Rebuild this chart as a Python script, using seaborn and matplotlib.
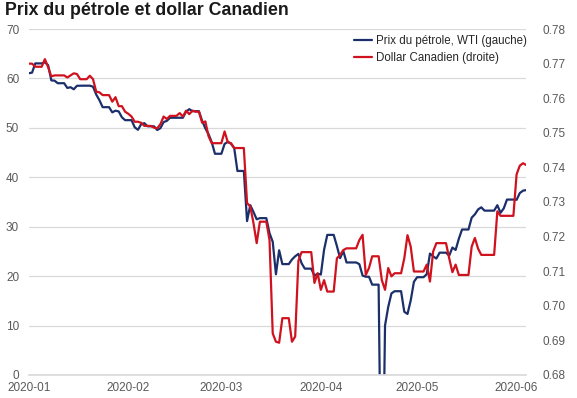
import pandas as pd
import matplotlib.pyplot as plt
import matplotlib.dates as mdates
import seaborn as sns

# WTI oil price, USD per barrel (daily, weekends carried over)
wti_jan = [61.06, 61.18, 63.05, 63.05, 63.05, 63.27, 62.70, 59.61, 59.56, 59.04,
           59.04, 59.04, 58.08, 58.23, 57.81, 58.52, 58.54, 58.54, 58.54, 58.54,
           58.34, 56.74, 55.59, 54.19, 54.19, 54.19, 53.14, 53.48, 53.33, 52.14, 51.56]
wti_feb = [51.56, 51.56, 50.11, 49.61, 50.75, 50.95, 50.32, 50.32, 50.32, 49.57,
           49.94, 51.17, 51.42, 52.05, 52.05, 52.05, 52.05, 52.05, 53.29, 53.78,
           53.38, 53.38, 53.38, 51.43, 49.90, 48.73, 47.09, 44.76, 44.76]
wti_mar = [44.76, 46.75, 47.18, 46.78, 45.90, 41.28, 41.28, 41.28, 31.13, 34.36,
           32.98, 31.50, 31.73, 31.73, 31.73, 28.70, 26.95, 20.37, 25.22, 22.43,
           22.43, 22.43, 23.36, 24.01, 24.49, 22.60, 21.51, 21.51, 21.51, 20.09, 20.48]
wti_apr = [20.31, 25.32, 28.34, 28.34, 28.34, 26.08, 23.63, 25.09, 22.76, 22.76,
           22.76, 22.76, 22.41, 20.11, 19.87, 19.87, 18.27, 18.27, 18.27, -37.63,
           10.01, 13.78, 16.50, 16.94, 16.94, 16.94, 12.78, 12.34, 15.06, 18.84]
wti_may = [19.78, 19.78, 19.78, 20.39, 24.56, 23.99, 23.55, 24.74, 24.74, 24.74,
           24.14, 25.78, 25.29, 27.56, 29.43, 29.43, 29.43, 31.82, 32.50, 33.49,
           33.92, 33.25, 33.25, 33.25, 33.25, 34.35, 32.81, 33.71, 35.49, 35.49, 35.49]
wti_jun = [35.44, 36.81, 37.29, 37.41]

# Canadian dollar, USD per CAD
cad_jan = [0.7700, 0.7700, 0.7691, 0.7691, 0.7691, 0.7713, 0.7690, 0.7663, 0.7666, 0.7666,
           0.7666, 0.7666, 0.7660, 0.7666, 0.7672, 0.7670, 0.7655, 0.7655, 0.7655, 0.7665,
           0.7655, 0.7619, 0.7617, 0.7609, 0.7609, 0.7609, 0.7590, 0.7603, 0.7577, 0.7577, 0.7561]
cad_feb = [0.7555, 0.7547, 0.7532, 0.7532, 0.7529, 0.7520, 0.7520, 0.7520, 0.7515, 0.7513,
           0.7525, 0.7547, 0.7540, 0.7549, 0.7549, 0.7549, 0.7557, 0.7547, 0.7564, 0.7554,
           0.7564, 0.7561, 0.7561, 0.7529, 0.7533, 0.7490, 0.7470, 0.7470, 0.7470]
cad_mar = [0.7470, 0.7504, 0.7473, 0.7470, 0.7456, 0.7456, 0.7456, 0.7456, 0.7297, 0.7287,
           0.7239, 0.7181, 0.7243, 0.7243, 0.7243, 0.7190, 0.6920, 0.6896, 0.6893, 0.6964,
           0.6964, 0.6964, 0.6896, 0.6911, 0.7130, 0.7155, 0.7155, 0.7155, 0.7155, 0.7066, 0.7094]
cad_apr = [0.7046, 0.7074, 0.7041, 0.7041, 0.7041, 0.7137, 0.7147, 0.7161, 0.7166, 0.7166,
           0.7166, 0.7166, 0.7190, 0.7205, 0.7089, 0.7109, 0.7143, 0.7143, 0.7143, 0.7074,
           0.7046, 0.7109, 0.7085, 0.7094, 0.7094, 0.7094, 0.7137, 0.7204, 0.7171, 0.7099]
cad_may = [0.7099, 0.7099, 0.7099, 0.7119, 0.7070, 0.7157, 0.7181, 0.7181, 0.7181, 0.7181,
           0.7137, 0.7097, 0.7119, 0.7089, 0.7089, 0.7089, 0.7089, 0.7171, 0.7196, 0.7165,
           0.7147, 0.7147, 0.7147, 0.7147, 0.7147, 0.7273, 0.7260, 0.7260, 0.7260, 0.7260, 0.7260]
cad_jun = [0.7380, 0.7405, 0.7412, 0.7407]

dates = pd.date_range("2020-01-01", "2020-06-04", freq="D")
df = pd.DataFrame({
    "date": dates,
    "wti": wti_jan + wti_feb + wti_mar + wti_apr + wti_may + wti_jun,
    "cad": cad_jan + cad_feb + cad_mar + cad_apr + cad_may + cad_jun,
})

sns.set_theme(style="white")
plt.rcParams["font.family"] = ["Liberation Sans", "DejaVu Sans"]

blue = "#1B2F6B"
red = "#D0121F"
grey_txt = "#595959"
grid_c = "#D9D9D9"

fig = plt.figure(figsize=(5.77, 3.98), dpi=100)
ax = fig.add_axes([0.050, 0.058, 0.862, 0.869])
ax2 = ax.twinx()

sns.lineplot(data=df, x="date", y="wti", ax=ax, color=blue, linewidth=1.6,
             label="Prix du pétrole, WTI (gauche)", legend=False)
sns.lineplot(data=df, x="date", y="cad", ax=ax2, color=red, linewidth=1.6,
             label="Dollar Canadien (droite)", legend=False)

ax.set_ylim(0, 70)
ax.set_yticks(range(0, 71, 10))
ax2.set_ylim(0.68, 0.78)
ax2.set_yticks([0.68 + 0.01 * k for k in range(11)])
ax2.yaxis.set_major_formatter(plt.FormatStrFormatter("%.2f"))
ax.set_xlim(pd.Timestamp("2020-01-01"), pd.Timestamp("2020-06-04"))
ax.xaxis.set_major_locator(mdates.MonthLocator())
ax.xaxis.set_major_formatter(mdates.DateFormatter("%Y-%m"))

ax.grid(axis="y", color=grid_c, linewidth=0.9)
ax.set_axisbelow(True)
for a in (ax, ax2):
    a.set_xlabel("")
    a.set_ylabel("")
    for s in ("top", "left", "right"):
        a.spines[s].set_visible(False)
    a.spines["bottom"].set_color(grid_c)
ax2.spines["bottom"].set_visible(False)

ax.tick_params(axis="x", colors=grey_txt, labelsize=8.5, length=3, direction="in",
               color=grid_c, pad=5)
ax.tick_params(axis="y", colors=grey_txt, labelsize=8.5, length=0, pad=7)
ax2.tick_params(axis="y", colors=grey_txt, labelsize=8.5, length=0, pad=12)

h1, l1 = ax.get_legend_handles_labels()
h2, l2 = ax2.get_legend_handles_labels()
ax2.legend(h1 + h2, l1 + l2, loc="upper right", bbox_to_anchor=(1.022, 1.012),
           frameon=False, fontsize=8.3, handlelength=1.6, handletextpad=0.3,
           labelspacing=0.45, labelcolor="#262626")

fig.text(0.008, 0.995, "Prix du pétrole et dollar Canadien", fontsize=12.8,
         fontweight="bold", color="#1a1a1a", ha="left", va="top")

fig.savefig("out.png", dpi=100)
